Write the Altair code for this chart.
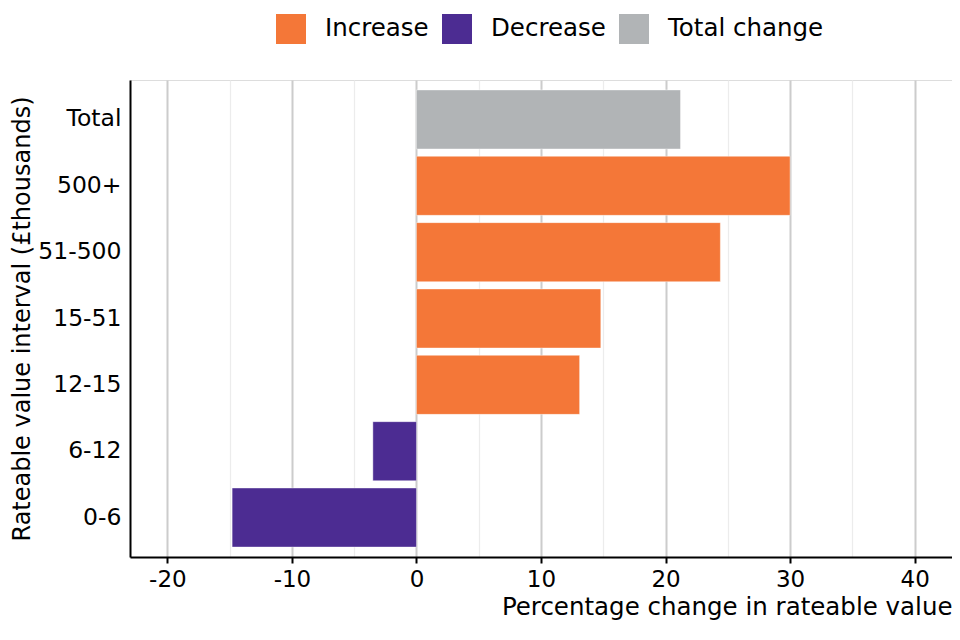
import altair as alt
import pandas as pd

categories = ["Total", "500+", "51-500", "15-51", "12-15", "6-12", "0-6"]
values = [21.2, 30.0, 24.4, 14.8, 13.1, -3.5, -14.8]
types = ["Total change", "Increase", "Increase", "Increase", "Increase", "Decrease", "Decrease"]

df = pd.DataFrame({"interval": categories, "change": values, "type": types})

font = "DejaVu Sans"
major = "datum.value % 10 === 0"

chart = alt.Chart(df).mark_bar(stroke="white", strokeWidth=0.8, strokeOpacity=0.5).encode(
    y=alt.Y("interval:N", sort=categories,
            scale=alt.Scale(paddingInner=0.11, paddingOuter=0.15),
            axis=alt.Axis(title="Rateable value interval (£thousands)", ticks=False,
                          domainColor="black", domainWidth=2, labelFontSize=23.5,
                          labelColor="black", labelPadding=9, titleFontSize=24,
                          titleFontWeight="normal", titleColor="black", titlePadding=3,
                          grid=False)),
    x=alt.X("change:Q",
            scale=alt.Scale(domain=[-23, 43], nice=False, zero=False),
            axis=alt.Axis(title="Percentage change in rateable value",
                          values=list(range(-20, 45, 5)),
                          labelExpr=f"{major} ? ('' + datum.value) : ''",
                          gridColor={"condition": {"test": major, "value": "#cccccc"}, "value": "#ececec"},
                          gridWidth={"condition": {"test": major, "value": 2}, "value": 1.2},
                          tickOpacity={"condition": {"test": major, "value": 1}, "value": 0},
                          tickColor="black", tickWidth=2, tickSize=6,
                          domainColor="black", domainWidth=2,
                          labelFontSize=23, labelColor="black", labelPadding=5,
                          titleFontSize=24.5, titleFontWeight="normal", titleColor="black",
                          titleAnchor="end", titlePadding=4)),
    color=alt.Color("type:N",
                    scale=alt.Scale(domain=["Increase", "Decrease", "Total change"],
                                    range=["#f47738", "#4c2c92", "#b1b4b6"]),
                    legend=alt.Legend(title=None, orient="none", direction="horizontal",
                                      legendX=146, legendY=-66,
                                      symbolType="square", symbolSize=900,
                                      symbolStrokeWidth=0, labelFontSize=24.5,
                                      labelColor="black", columnPadding=13,
                                      labelOffset=19)),
).properties(
    width=822, height=477,
    autosize=alt.AutoSizeParams(type="none"),
    padding={"left": 122, "top": 72, "right": 0, "bottom": 72},
).configure_view(
    stroke="#666666", strokeWidth=1.5
).configure(font=font)

chart.save("out.html", embed_options={"renderer": "svg", "actions": False})
